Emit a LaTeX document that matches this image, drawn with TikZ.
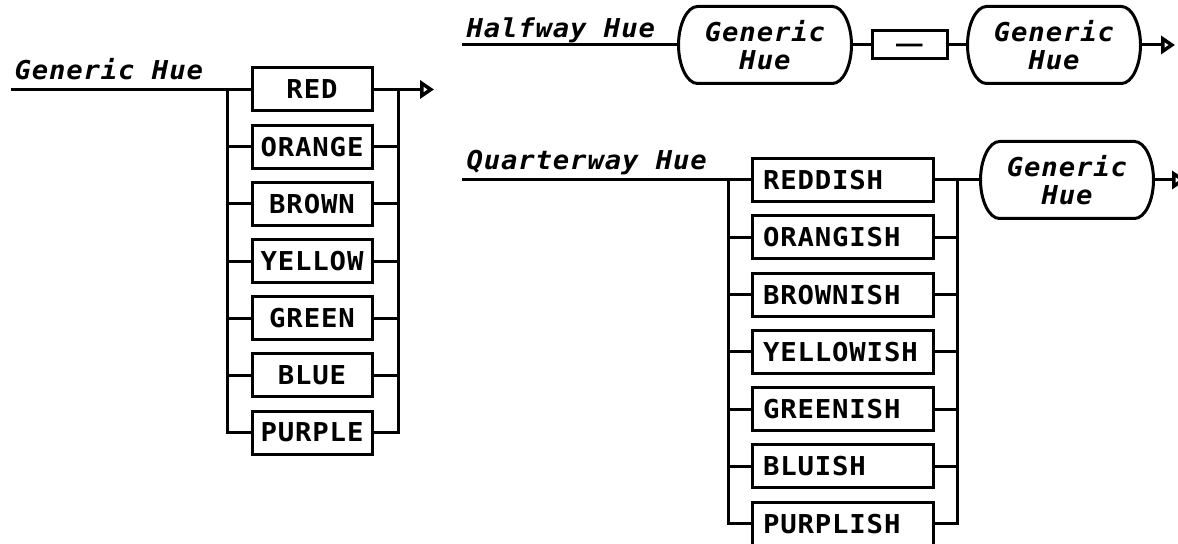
\documentclass[tikz,border=0pt]{standalone}
\usepackage{fontspec}
\usetikzlibrary{arrows.meta,calc}
\newfontfamily\upfont{DejaVu Sans Mono Bold}[FakeStretch=1.05,LetterSpace=3.3]
\newfontfamily\itfont{DejaVu Sans Mono Bold Oblique}[FakeStretch=1.05,LetterSpace=3.3]
\newfontfamily\dashfont{DejaVu Sans Mono}[FakeStretch=1.1]
\newcommand\hueoutline[1]{%
  \draw ($(#1.north west)+(19,0)$) -- ($(#1.north east)+(-19,0)$)
    .. controls ($(#1.north east)+(-8.5,0)$) and ($(#1.east)+(0,-20.4)$) .. (#1.east)
    .. controls ($(#1.east)+(0,20.4)$) and ($(#1.south east)+(-8.5,0)$) .. ($(#1.south east)+(-19,0)$)
    -- ($(#1.south west)+(19,0)$)
    .. controls ($(#1.south west)+(8.5,0)$) and ($(#1.west)+(0,20.4)$) .. (#1.west)
    .. controls ($(#1.west)+(0,-20.4)$) and ($(#1.north west)+(8.5,0)$) .. ($(#1.north west)+(19,0)$)
    -- cycle;}
\begin{document}
\begin{tikzpicture}[x=0.5pt,y=-0.5pt,line width=1.5pt,line join=miter,
  termbox/.style={draw,minimum width=60pt,minimum height=21.5pt,inner sep=0pt,
    font=\upfont\fontsize{13}{15}\selectfont},
  ishbox/.style={draw,minimum width=90.5pt,minimum height=21.5pt,inner xsep=5.5pt,inner ysep=0pt,
    text width=79.5pt,align=left,font=\upfont\fontsize{13}{15}\selectfont},
  huebox/.style={minimum width=85pt,minimum height=37pt,inner sep=0pt,align=center,
    font=\itfont\fontsize{13}{14}\selectfont},
  minusbox/.style={draw,minimum width=37.5pt,minimum height=14pt,inner sep=0pt},
  dashtext/.style={anchor=base,inner sep=0pt,font=\dashfont\fontsize{20}{22}\selectfont},
  rulename/.style={anchor=base west,inner sep=0pt,font=\itfont\fontsize{13}{15}\selectfont},
  arr/.style={-{Triangle[open,length=7pt,width=9pt,line width=2.2pt]}}
]
\useasboundingbox (0,0) rectangle (1178,544);

% ---------- Generic Hue ----------
\node[rulename] (gl) at (13,80) {Generic Hue};
\coordinate (gs) at (11,89.5);
\node[termbox] (red)    at (312,89.5)  {RED};
\node[termbox] (orange) at (312,146.7) {ORANGE};
\node[termbox] (brown)  at (312,203.9) {BROWN};
\node[termbox] (yellow) at (312,261.1) {YELLOW};
\node[termbox] (green)  at (312,318.3) {GREEN};
\node[termbox] (blue)   at (312,375.5) {BLUE};
\node[termbox] (purple) at (312,432.7) {PURPLE};
\coordinate (gt) at (434,89.5);
\draw (gs) -- (red.west);
\draw ($(red.west)+(-23,0)$) |- (purple.west);
\draw ($(red.east)+(25,0)$) |- (purple.east);
\foreach \n in {orange,brown,yellow,green,blue}{
  \draw (\n.west) -- ++(-23,0);
  \draw (\n.east) -- ++(25,0);
}
\draw[arr] (red.east) -- (gt);

% ---------- Halfway Hue ----------
\node[rulename] (hl) at (465,38) {Halfway Hue};
\coordinate (hs) at (462,45);
\node[huebox] (h1) at (765,45) {Generic\\Hue};
\node[minusbox] (hm) at (909.5,45) {};
\node[dashtext] (hdash) at (909.5,57) {—};
\node[huebox] (h2) at (1054,45) {Generic\\Hue};
\coordinate (ht) at (1175,45);
\hueoutline{h1}
\hueoutline{h2}
\draw (hs) -- (h1.west);
\draw (h1.east) -- (hm.west);
\draw (hm.east) -- (h2.west);
\draw[arr] (h2.east) -- (ht);

% ---------- Quarterway Hue ----------
\node[rulename] (ql) at (465,170) {Quarterway Hue};
\coordinate (qs) at (462,180);
\node[ishbox] (reddish)   at (842.5,180)   {REDDISH};
\node[ishbox] (orangish)  at (842.5,237.3) {ORANGISH};
\node[ishbox] (brownish)  at (842.5,294.6) {BROWNISH};
\node[ishbox] (yellowish) at (842.5,351.9) {YELLOWISH};
\node[ishbox] (greenish)  at (842.5,409.2) {GREENISH};
\node[ishbox] (bluish)    at (842.5,466.5) {BLUISH};
\node[ishbox] (purplish)  at (842.5,523.8) {PURPLISH};
\node[huebox] (q1) at (1067,180) {Generic\\Hue};
\coordinate (qt) at (1186,180);
\hueoutline{q1}
\draw (qs) -- (reddish.west);
\draw ($(reddish.west)+(-22,0)$) |- (purplish.west);
\draw ($(reddish.east)+(23,0)$) |- (purplish.east);
\foreach \n in {orangish,brownish,yellowish,greenish,bluish}{
  \draw (\n.west) -- ++(-22,0);
  \draw (\n.east) -- ++(23,0);
}
\draw (reddish.east) -- (q1.west);
\draw[arr] (q1.east) -- (qt);
\end{tikzpicture}
\end{document}
